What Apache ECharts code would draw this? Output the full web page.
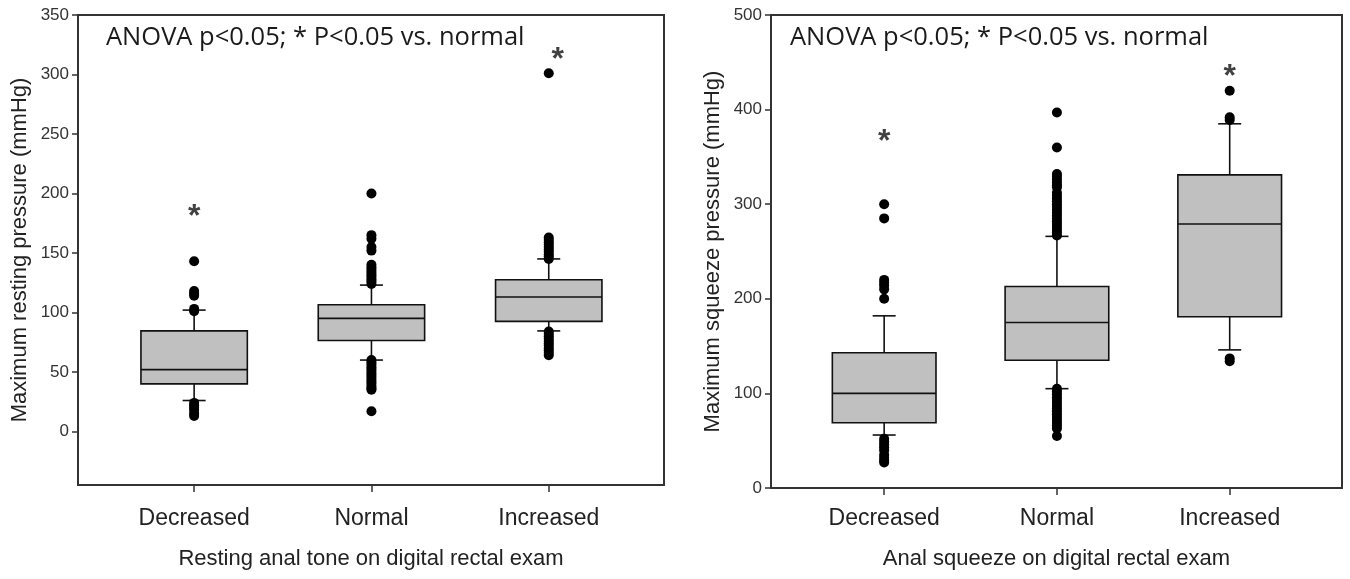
<!DOCTYPE html>
<html>
<head>
<meta charset="utf-8">
<script src="https://cdn.jsdelivr.net/npm/echarts@6/dist/echarts.min.js"></script>
<style>html,body{margin:0;padding:0;background:#fff;}#c{width:1350px;height:579px;}</style>
</head>
<body>
<div id="c"></div>
<script>
// ---------- data ----------
const categories = ['Decreased', 'Normal', 'Increased'];
const restingTicks = [0, 50, 100, 150, 200, 250, 300, 350];
const squeezeTicks = [0, 100, 200, 300, 400, 500];

// [lower whisker, Q1, median, Q3, upper whisker]
const restingBoxes = [
  [26, 40, 52, 84.5, 102],
  [60, 76.5, 95, 106.5, 123],
  [84.5, 92.5, 113, 127.5, 145]
];
const squeezeBoxes = [
  [56, 69, 100, 143, 182],
  [105, 135, 175, 213, 266],
  [146, 181, 279, 331, 385]
];

const restingOutDecreased = [143, 118, 116, 114, 103, 101, 24, 22, 20, 18, 15, 13];
const restingOutNormal = [200, 165, 162, 155, 152, 140, 138, 136, 134, 132, 130, 128, 126, 124,
  60, 58, 56, 54, 52, 50, 48, 46, 44, 42, 40, 38, 36, 35, 17];
const restingOutIncreased = [301, 163, 161, 159, 157, 155, 153, 151, 149, 147, 145,
  84, 82, 80, 78, 76, 74, 72, 70, 68, 66, 64];

const squeezeOutDecreased = [300, 285, 220, 217, 214, 210, 200, 52, 49, 46, 43, 40, 35, 32, 29, 27];
const squeezeOutNormal = [397, 360, 332, 329, 326, 323, 320, 318, 312, 309, 306, 303, 300, 297, 294,
  291, 288, 285, 282, 279, 276, 273, 270, 267,
  105, 102, 99, 96, 93, 90, 87, 84, 81, 78, 75, 72, 69, 66, 63, 55];
const squeezeOutIncreased = [420, 392, 389, 137, 134];

const restingStars = [[1, 186], [3.05, 318]];
const squeezeStars = [[1, 373], [3, 442]];

const annotation = 'ANOVA p<0.05; * P<0.05 vs. normal';
const restingYName = 'Maximum resting pressure (mmHg)';
const squeezeYName = 'Maximum squeeze pressure (mmHg)';
const restingXName = 'Resting anal tone on digital rectal exam';
const squeezeXName = 'Anal squeeze on digital rectal exam';

// ---------- helpers ----------
function boxData(stats) {
  return stats.map((s, i) => [i + 1].concat(s));
}
function outData(arrs) {
  const out = [];
  arrs.forEach((a, i) => a.forEach(v => out.push([i + 1, v])));
  return out;
}
const STROKE = '#111';
function renderBox(params, api) {
  const x = api.value(0);
  const lo = api.coord([x, api.value(1)]);
  const q1 = api.coord([x, api.value(2)]);
  const med = api.coord([x, api.value(3)]);
  const q3 = api.coord([x, api.value(4)]);
  const hi = api.coord([x, api.value(5)]);
  const hw = api.size([0.6, 0])[0] / 2;
  const cw = 11.5;
  const cx = q1[0];
  const ls = { stroke: STROKE, lineWidth: 1.6, fill: null };
  return {
    type: 'group',
    children: [
      { type: 'line', shape: { x1: cx, y1: q3[1], x2: cx, y2: hi[1] }, style: ls },
      { type: 'line', shape: { x1: cx, y1: q1[1], x2: cx, y2: lo[1] }, style: ls },
      { type: 'line', shape: { x1: cx - cw, y1: hi[1], x2: cx + cw, y2: hi[1] }, style: ls },
      { type: 'line', shape: { x1: cx - cw, y1: lo[1], x2: cx + cw, y2: lo[1] }, style: ls },
      { type: 'rect', shape: { x: cx - hw, y: q3[1], width: 2 * hw, height: q1[1] - q3[1] },
        style: { fill: '#c0c0c0', stroke: STROKE, lineWidth: 1.6 } },
      { type: 'line', shape: { x1: cx - hw, y1: med[1], x2: cx + hw, y2: med[1] }, style: ls }
    ]
  };
}

const tickFont = { fontFamily: 'Liberation Sans, Arial, sans-serif', fontSize: 17, color: '#333' };
const catFont = { fontFamily: 'Liberation Sans, Arial, sans-serif', fontSize: 23, color: '#222' };
const nameFont = { fontFamily: 'Liberation Sans, Arial, sans-serif', fontSize: 22, color: '#222' };
const axisLineStyle = { color: '#333', width: 2 };

function xAxisCfg(gridIndex, name, margin, nameGap) {
  return {
    type: 'value', gridIndex, min: 0.345, max: 3.65,
    name, nameLocation: 'middle', nameGap, nameTextStyle: nameFont,
    axisLine: { show: true, onZero: false, lineStyle: axisLineStyle },
    axisTick: { show: true, length: 7, lineStyle: { color: '#333', width: 1.5 }, customValues: [1, 2, 3] },
    axisLabel: Object.assign({ margin, customValues: [1, 2, 3],
      formatter: v => categories[Math.round(v) - 1] || '' }, catFont),
    splitLine: { show: false }
  };
}
function yAxisCfg(gridIndex, name, min, max, ticks) {
  return {
    type: 'value', gridIndex, min, max,
    name, nameLocation: 'middle', nameGap: 47, nameTextStyle: nameFont,
    axisLine: { show: true, onZero: false, lineStyle: axisLineStyle },
    axisTick: { show: true, length: 6, lineStyle: { color: '#333', width: 1.5 }, customValues: ticks },
    axisLabel: Object.assign({ margin: 9, customValues: ticks }, tickFont),
    splitLine: { show: false }
  };
}
function starSeries(idx, data) {
  return {
    type: 'scatter', xAxisIndex: idx, yAxisIndex: idx, data, symbolSize: 1,
    itemStyle: { color: 'rgba(0,0,0,0)' }, silent: true, z: 5,
    label: { show: true, position: 'inside', formatter: '*', fontSize: 32, fontWeight: 'bold',
      fontFamily: 'Liberation Sans, Arial, sans-serif', color: '#111', offset: [0, 7] }
  };
}
function outSeries(idx, data) {
  return {
    type: 'scatter', xAxisIndex: idx, yAxisIndex: idx, data, symbol: 'circle', symbolSize: 10,
    itemStyle: { color: '#000', opacity: 1 }, z: 4
  };
}

const chart = echarts.init(document.getElementById('c'));
chart.setOption({
  animation: false,
  backgroundColor: '#fff',
  grid: [
    { left: 78, top: 15, width: 586, height: 470, show: true, borderColor: '#333', borderWidth: 2, backgroundColor: 'transparent' },
    { left: 771, top: 15, width: 571, height: 473, show: true, borderColor: '#333', borderWidth: 2, backgroundColor: 'transparent' }
  ],
  xAxis: [xAxisCfg(0, restingXName, 22, 63), xAxisCfg(1, squeezeXName, 19, 60)],
  yAxis: [
    yAxisCfg(0, restingYName, -45, 350, restingTicks),
    yAxisCfg(1, squeezeYName, 0, 500, squeezeTicks)
  ],
  graphic: [
    { type: 'text', left: 106, top: 25, style: { text: annotation, font: '25.5px "Open Sans", sans-serif', fill: '#1a1a1a' } },
    { type: 'text', left: 790, top: 25, style: { text: annotation, font: '25.5px "Open Sans", sans-serif', fill: '#1a1a1a' } }
  ],
  series: [
    { type: 'custom', xAxisIndex: 0, yAxisIndex: 0, data: boxData(restingBoxes), renderItem: renderBox, z: 3 },
    outSeries(0, outData([restingOutDecreased, restingOutNormal, restingOutIncreased])),
    starSeries(0, restingStars),
    { type: 'custom', xAxisIndex: 1, yAxisIndex: 1, data: boxData(squeezeBoxes), renderItem: renderBox, z: 3 },
    outSeries(1, outData([squeezeOutDecreased, squeezeOutNormal, squeezeOutIncreased])),
    starSeries(1, squeezeStars)
  ]
});
</script>
</body>
</html>
